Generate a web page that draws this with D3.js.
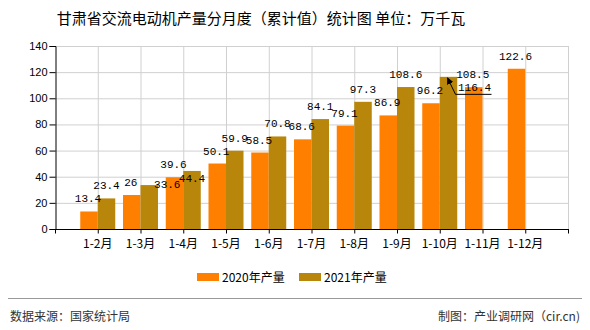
<!DOCTYPE html>
<html><head><meta charset="utf-8">
<script src="https://cdn.jsdelivr.net/npm/d3@7/dist/d3.min.js"></script>
<style>body{margin:0;background:#fff;}svg{display:block;}</style>
</head><body><svg id="c" width="590" height="330"></svg>
<script>
const categories = ["1-2月","1-3月","1-4月","1-5月","1-6月","1-7月","1-8月","1-9月","1-10月","1-11月","1-12月"];
const values2020 = [13.4, 26, 39.6, 50.1, 58.5, 68.6, 79.1, 86.9, 96.2, 108.5, 122.6];
const values2021 = [23.4, 33.6, 44.4, 59.9, 70.8, 84.1, 97.3, 108.6, 116.4];
const seriesNames = ["2020年产量", "2021年产量"];
const yTicks = [0, 20, 40, 60, 80, 100, 120, 140];

const colors = ["#FF8000", "#B8860B"];
const svg = d3.select("#c");
const L = 55, R = 568, T = 46, B = 229;
const x = d3.scalePoint().domain(categories).range([L, R]).padding(1);
const y = d3.scaleLinear().domain([0, 140]).range([B, T]);
const bw = 17.5;
const fontCN = "'Noto Sans CJK SC', sans-serif";
const fontMono = "'Liberation Mono', 'DejaVu Sans Mono', monospace";
// label placement nudges (layout only) for 2021 series: index -> [dx, dy]
const nudge2021 = {1: [18, 12], 2: [0, 20]};

// title
svg.append("text").attr("x", 261).attr("y", 24).attr("text-anchor", "middle")
  .attr("font-family", fontCN).attr("font-size", 15).attr("fill", "#000")
  .text("甘肃省交流电动机产量分月度（累计值）统计图 单位：万千瓦");

// grid
const g = svg.append("g");
g.selectAll("line.h").data(yTicks).enter().append("line")
  .attr("x1", L).attr("x2", R).attr("y1", d => y(d) + 0.5).attr("y2", d => y(d) + 0.5)
  .attr("stroke", "#d0d0d0");
g.selectAll("line.v").data(categories.concat(["__end"])).enter().append("line")
  .attr("x1", d => (d === "__end" ? R : x(d)) + 0.5).attr("x2", d => (d === "__end" ? R : x(d)) + 0.5)
  .attr("y1", T).attr("y2", B).attr("stroke", "#d0d0d0");

// bars
const bars = svg.append("g");
bars.selectAll("rect.a").data(values2020).enter().append("rect")
  .attr("x", (d, i) => x(categories[i]) - bw).attr("width", bw)
  .attr("y", d => y(d)).attr("height", d => B - y(d)).attr("fill", colors[0]);
bars.selectAll("rect.b").data(values2021).enter().append("rect")
  .attr("x", (d, i) => x(categories[i])).attr("width", bw)
  .attr("y", d => y(d)).attr("height", d => B - y(d)).attr("fill", colors[1]);

// axes
const yAxis = d3.axisLeft(y).tickValues(yTicks).tickSize(6).tickFormat(d3.format("d"));
const ya = svg.append("g").attr("transform", `translate(${L + 0.5},0)`).call(yAxis);
ya.select(".domain").attr("stroke", "#000");
ya.selectAll(".tick line").attr("stroke", "#000");
ya.selectAll(".tick text").attr("font-family", "'Liberation Sans', Arial, sans-serif").attr("font-size", 11).attr("fill", "#000").attr("x", -8);

const xa = svg.append("g").attr("transform", `translate(0,${B + 0.5})`);
xa.append("line").attr("x1", L).attr("x2", R + 1).attr("stroke", "#000");
xa.selectAll("line.t").data([L].concat(categories.map(c => x(c)), [R])).enter().append("line")
  .attr("x1", d => d + 0.5).attr("x2", d => d + 0.5).attr("y1", 0).attr("y2", 4).attr("stroke", "#000");
xa.selectAll("text").data(categories).enter().append("text")
  .attr("x", d => x(d)).attr("y", 18).attr("text-anchor", "middle")
  .attr("font-family", fontCN).attr("font-size", 12).attr("fill", "#000").text(d => d);

// value labels
const lab = svg.append("g").attr("font-family", fontMono).attr("font-size", 11).attr("fill", "#000").attr("text-anchor", "middle");
lab.selectAll("text.a").data(values2020).enter().append("text")
  .attr("x", (d, i) => x(categories[i]) - bw / 2 - 1).attr("y", d => y(d) - 9).text(d => d);
const last = values2021.length - 1;
lab.selectAll("text.b").data(values2021).enter().append("text")
  .attr("x", (d, i) => {
    if (i === last) return x(categories[i]) + bw / 2 + 26;
    const n = nudge2021[i] || [0, 0];
    return x(categories[i]) + bw / 2 + n[0];
  })
  .attr("y", (d, i) => {
    if (i === last) return y(d) + 14;
    const n = nudge2021[i] || [0, 0];
    return y(d) - 9 + n[1];
  }).text(d => d);
// leader for displaced label
{
  const bx = x(categories[last]) + bw / 2 - 1, by = y(values2021[last]) + 1;
  const lx = bx + 8, ly = by + 16;
  svg.append("defs").append("marker").attr("id", "arr").attr("viewBox", "0 0 10 10")
    .attr("refX", 9).attr("refY", 5).attr("markerWidth", 7).attr("markerHeight", 7).attr("orient", "auto")
    .append("path").attr("d", "M0,0 L10,5 L0,10 z").attr("fill", "#000");
  svg.append("path").attr("d", `M${lx + 36},${ly + 0.5} L${lx},${ly + 0.5} L${bx},${by}`)
    .attr("fill", "none").attr("stroke", "#000").attr("stroke-width", 1).attr("marker-end", "url(#arr)");
}

// legend
const leg = svg.append("g");
const legX = [197, 299];
seriesNames.forEach((n, i) => {
  leg.append("rect").attr("x", legX[i]).attr("y", 273).attr("width", 22).attr("height", 8).attr("fill", colors[i]);
  leg.append("text").attr("x", legX[i] + 25).attr("y", 281.5).attr("font-family", fontCN)
    .attr("font-size", 12).attr("fill", "#000").text(n);
});

// footer
svg.append("line").attr("x1", 8).attr("x2", 582).attr("y1", 298.5).attr("y2", 298.5).attr("stroke", "#999");
svg.append("text").attr("x", 10).attr("y", 321).attr("font-family", fontCN).attr("font-size", 12).attr("fill", "#333").text("数据来源：国家统计局");
svg.append("text").attr("x", 580).attr("y", 321).attr("text-anchor", "end").attr("font-family", fontCN).attr("font-size", 12).attr("fill", "#333").text("制图：产业调研网（cir.cn)");
</script></body></html>
